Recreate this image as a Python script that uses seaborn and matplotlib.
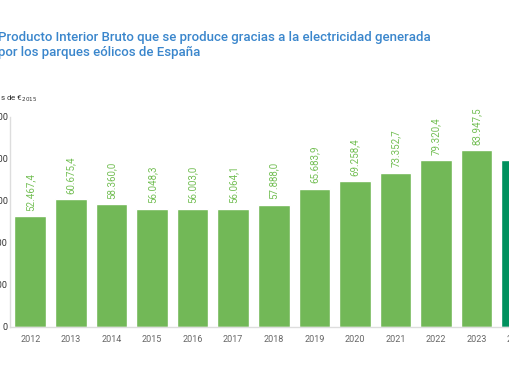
import matplotlib
matplotlib.use("Agg")
import matplotlib.pyplot as plt
import seaborn as sns
import pandas as pd

years = ["2012", "2013", "2014", "2015", "2016", "2017", "2018", "2019",
         "2020", "2021", "2022", "2023", "2024"]
values = [52467.4, 60675.4, 58360.0, 56048.3, 56003.0, 56064.1, 57888.0,
          65683.9, 69258.4, 73352.7, 79320.4, 83947.5, 79500.0]
labels = ["52.467,4", "60.675,4", "58.360,0", "56.048,3", "56.003,0", "56.064,1",
          "57.888,0", "65.683,9", "69.258,4", "73.352,7", "79.320,4", "83.947,5",
          "79.500,0"]
yticks = [0, 20000, 40000, 60000, 80000, 100000]
ytick_labels = ["0", "20.000", "40.000", "60.000", "80.000", "100.000"]

sns.set_theme(style="white")
plt.rcParams["font.family"] = ["Roboto", "DejaVu Sans"]

W, H = 510, 382
fig = plt.figure(figsize=(W / 100, H / 100), dpi=100)

ax_left = 10 / W
ax_right_px = 30 + 12.5 * 40.6
ax = fig.add_axes([ax_left, (H - 326.5) / H, (ax_right_px - 10) / W, (326.5 - 116.7) / H])

df = pd.DataFrame({"year": years, "value": values})
light = "#72b857"
dark = "#00915e"
palette = [light] * 12 + [dark]
sns.barplot(data=df, x="year", y="value", hue="year", palette=palette,
            legend=False, width=0.78, ax=ax, saturation=1)

ax.set_xlim(-0.5, 12.5)
ax.set_ylim(0, 100000)
ax.set_yticks(yticks)
ax.set_yticklabels(ytick_labels)
ax.set_xlabel("")
ax.set_ylabel("")
ax.tick_params(axis="y", length=0, pad=1.5, labelsize=6.5, labelcolor="#333333")
ax.tick_params(axis="x", length=0, pad=6, labelsize=6.5, labelcolor="#666666")
for s in ["top", "right"]:
    ax.spines[s].set_visible(False)
for s in ["left", "bottom"]:
    ax.spines[s].set_color("#dddddd")
    ax.spines[s].set_linewidth(1)

for i, (v, lab) in enumerate(zip(values, labels)):
    ax.annotate(lab, (i, v), xytext=(0, 4), textcoords="offset points",
                rotation=90, ha="center", va="bottom", fontsize=7,
                color="#74bf55")

fig.text(-2 / W, 1 - 38 / H, "Producto Interior Bruto que se produce gracias a la electricidad generada",
         color="#3a86cc", fontsize=9.5, va="center", ha="left", fontweight="medium")
fig.text(-2 / W, 1 - 52 / H, "por los parques eólicos de España",
         color="#3a86cc", fontsize=9.5, va="center", ha="left", fontweight="medium")
fig.text(37 / W, 1 - 99 / H, "Millones de €$_{2015}$", color="#333333",
         fontsize=5.8, va="center", ha="right")

fig.savefig("out.png", dpi=100)
